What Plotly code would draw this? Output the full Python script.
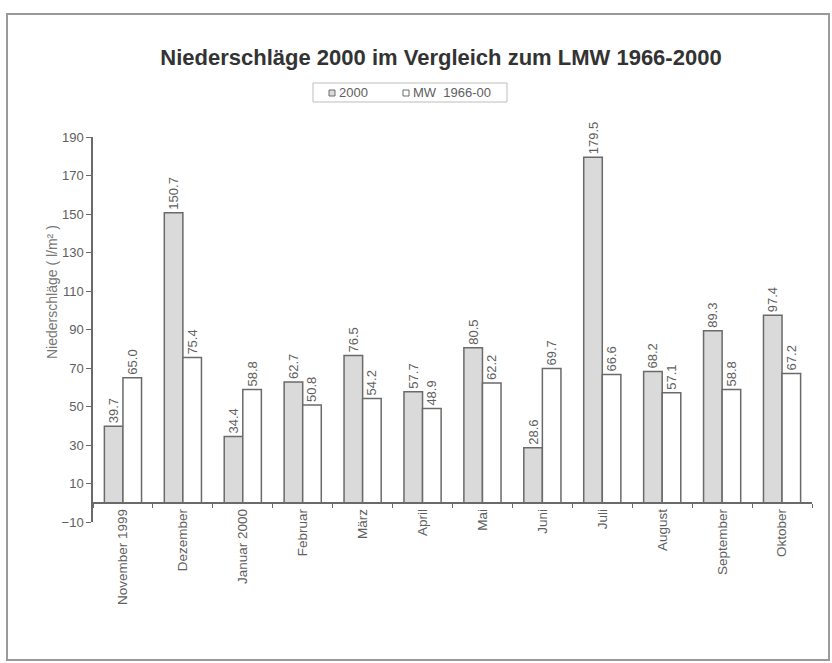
import plotly.graph_objects as go

# Monthly precipitation Nov 1999 - Oct 2000 versus long-term mean 1966-2000
months = ["November 1999", "Dezember", "Januar 2000", "Februar", "März", "April",
          "Mai", "Juni", "Juli", "August", "September", "Oktober"]
rain_2000 = [39.7, 150.7, 34.4, 62.7, 76.5, 57.7, 80.5, 28.6, 179.5, 68.2, 89.3, 97.4]
mean_1966_00 = [65.0, 75.4, 58.8, 50.8, 54.2, 48.9, 62.2, 69.7, 66.6, 57.1, 58.8, 67.2]
y_ticks = [-10, 10, 30, 50, 70, 90, 110, 130, 150, 170, 190]
series_names = ["2000", "MW  1966-00"]

W, H = 832, 663
ML, MR, MT, MB = 93, 20, 137, 141
PW, PH = W - ML - MR, H - MT - MB
Y_MIN, Y_MAX = -10, 190

FONT = "Arial, Liberation Sans, sans-serif"
TXT = "#606060"
EDGE = "#6a6a6a"
FILL_2000 = "#dadada"
FILL_MW = "#ffffff"


def px_x(px):
    return (px - ML) / PW


def px_y(py):
    return (H - MB - py) / PH


fig = go.Figure()
for name, vals, fill in [(series_names[0], rain_2000, FILL_2000),
                         (series_names[1], mean_1966_00, FILL_MW)]:
    fig.add_trace(go.Bar(
        name=name, x=months, y=vals,
        marker=dict(color=fill, line=dict(color=EDGE, width=1.5)),
        text=[f"{v:.1f}" for v in vals], textposition="outside",
        textangle=-90, constraintext="none", cliponaxis=False,
        textfont=dict(family=FONT, size=13, color=TXT),
        showlegend=False,
    ))

# compact legend box drawn with shapes and annotations
shapes = [
    dict(type="rect", xref="paper", yref="paper",
         x0=px_x(7), x1=px_x(829), y0=px_y(660), y1=px_y(14),
         line=dict(color="#9a9a9a", width=2), layer="below"),
    dict(type="rect", xref="paper", yref="paper",
         x0=px_x(313), x1=px_x(507), y0=px_y(102), y1=px_y(83),
         line=dict(color="#bdbdbd", width=1), fillcolor="white"),
]
annotations = [dict(
    text="Niederschläge ( l/m² )", textangle=-90,
    xref="paper", yref="paper", x=px_x(42), y=px_y(292),
    showarrow=False, font=dict(family=FONT, size=14, color="#777777"),
)]
for name, fill, sx in [(series_names[0], FILL_2000, 329),
                       (series_names[1], FILL_MW, 403)]:
    shapes.append(dict(type="rect", xref="paper", yref="paper",
                       x0=px_x(sx), x1=px_x(sx + 6), y0=px_y(96), y1=px_y(90),
                       line=dict(color=EDGE, width=1), fillcolor=fill))
    annotations.append(dict(text=name, xref="paper", yref="paper",
                            x=px_x(sx + 8), y=px_y(92.5), xanchor="left",
                            yanchor="middle", showarrow=False,
                            font=dict(family=FONT, size=13, color=TXT)))

fig.update_layout(
    width=W, height=H,
    margin=dict(l=ML, r=MR, t=MT, b=MB),
    paper_bgcolor="white", plot_bgcolor="white",
    barmode="group", bargap=0.38, bargroupgap=0,
    font=dict(family=FONT, color=TXT),
    title=dict(text="<b>Niederschläge 2000 im Vergleich zum LMW 1966-2000</b>",
               x=441 / W, xanchor="center", y=1 - 57 / H, yanchor="middle",
               font=dict(family=FONT, size=22, color="#333333")),
    showlegend=False,
    xaxis=dict(
        type="category", anchor="free",
        position=(0 - Y_MIN) / (Y_MAX - Y_MIN),
        showline=True, linecolor=EDGE, linewidth=1.5,
        ticks="outside", ticklen=4, tickcolor=EDGE, tickson="boundaries",
        tickangle=-90, showgrid=False,
        tickfont=dict(family=FONT, size=13.5, color=TXT),
    ),
    yaxis=dict(
        range=[Y_MIN, Y_MAX], tickvals=y_ticks,
        showline=True, linecolor=EDGE, linewidth=1.5,
        ticks="outside", ticklen=5, tickcolor=EDGE,
        showgrid=False, zeroline=False,
        tickfont=dict(family=FONT, size=13, color=TXT),
    ),
    annotations=annotations,
    shapes=shapes,
)

fig.write_html("out.html")
